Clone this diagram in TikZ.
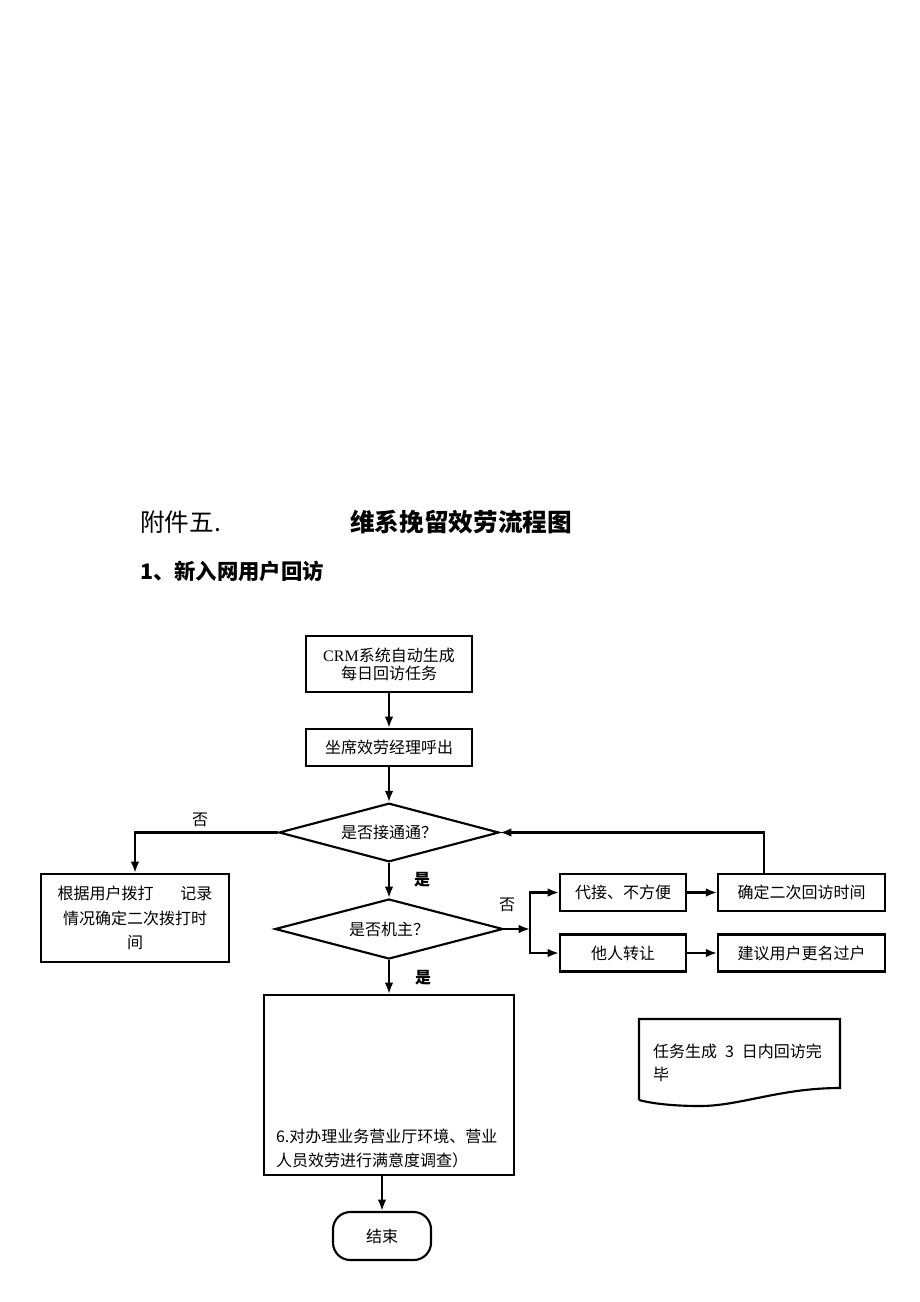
\documentclass[tikz,border=0pt]{standalone}
\usepackage{fontspec}
\newfontfamily\cjk{Noto Sans CJK SC}
\newfontfamily\latinrm{Liberation Serif}
\usetikzlibrary{arrows.meta,shapes.geometric}
\begin{document}
\begin{tikzpicture}[x=0.75pt,y=-0.75pt,line width=1.6pt,
    box/.style={draw,rectangle,align=center,inner sep=0pt,font=\cjk\fontsize{12}{13.5}\selectfont},
    test/.style={draw,diamond,aspect=3.7,inner sep=0pt,font=\cjk\fontsize{12}{14}\selectfont},
    lab/.style={inner sep=0pt,font=\cjk\fontsize{12}{14}\selectfont},
    arr/.style={-{Latex[length=8.5pt,width=6.5pt]}}]
    \useasboundingbox (0,0) rectangle (920,1302);

    % heading
    \node[anchor=west,inner sep=0pt,font=\cjk\fontsize{18.5}{22}\selectfont] (annex) at (139,522) {附件五.};
    \node[inner sep=0pt,font=\cjk\bfseries\fontsize{18.5}{22}\selectfont] (title) at (461,522) {维系挽留效劳流程图};
    \node[anchor=west,inner sep=0pt,font=\cjk\bfseries\fontsize{16}{20}\selectfont] (section) at (139,571) {1、新入网用户回访};

    % flow
    \node[box,minimum width=124.5pt,minimum height=42pt] (start) at (389,664) {{\latinrm CRM}系统自动生成\\每日回访任务};
    \node[box,minimum width=124.5pt,minimum height=27.75pt] (call) at (389,747.5) {坐席效劳经理呼出};
    \node[test,minimum width=165pt,minimum height=44pt] (conn) at (389,832.5) {是否接通通？};
    \node[box,minimum width=141pt,minimum height=66pt,font=\cjk\fontsize{12}{18.4}\selectfont] (redial) at (135,918) {根据用户拨打\hspace{20pt}记录\\情况确定二次拨打时\\间};
    \node[test,aspect=3.8,minimum width=171pt,minimum height=45pt] (owner) at (389,929) {是否机主？};
    \node[box,minimum width=94.5pt,minimum height=27.75pt] (proxy) at (623,892.5) {代接、不方便};
    \node[box,minimum width=125pt,minimum height=27.75pt] (revisit) at (801.5,892.5) {确定二次回访时间};
    \node[box,minimum width=94.5pt,minimum height=27.75pt] (transfer) at (623,953) {他人转让};
    \node[box,minimum width=125pt,minimum height=27.75pt] (rename) at (801.5,953) {建议用户更名过户};
    \node[box,minimum width=187.5pt,minimum height=135pt] (survey) at (389,1085) {};
    \node[lab,anchor=west,align=left,font=\cjk\fontsize{12}{18}\selectfont] (surveytext) at (275,1148) {6.对办理业务营业厅环境、营业\\人员效劳进行满意度调查）};
    \node[box,rounded corners=13pt,minimum width=73.5pt,minimum height=36pt] (end) at (382,1236) {结束};

    % note
    \draw (639,1100) -- (639,1019) -- (840,1019) -- (840,1088)
      .. controls (780,1088) and (740,1106) .. (700,1106)
      .. controls (670,1106) and (650,1103) .. (639,1100);
    \node[lab,anchor=west,align=left,font=\cjk\fontsize{12}{17.25}\selectfont] (note) at (652,1062.5) {任务生成\hspace{6pt}3\hspace{6pt}日内回访完\\毕};

    % labels
    \node[lab] (no1) at (200,820) {否};
    \node[lab,font=\cjk\bfseries\fontsize{12}{14}\selectfont] (yes1) at (422,880) {是};
    \node[lab] (no2) at (507,905) {否};
    \node[lab,font=\cjk\bfseries\fontsize{12}{14}\selectfont] (yes2) at (423,978) {是};

    \coordinate (split) at (530,929);

    \draw[arr] (start) -- (call);
    \draw[arr] (call) -- (conn);
    \draw[arr] (conn.west) -| (redial.north);
    \draw[arr] (conn) -- (owner);
    \draw[arr] (owner.east) -- (split);
    \draw[arr] (split) |- (proxy.west);
    \draw[arr] (split) |- (transfer.west);
    \draw[arr] (proxy) -- (revisit);
    \draw[arr] (transfer) -- (rename);
    \draw[arr] ([xshift=-28pt]revisit.north) |- (conn.east);
    \draw[arr] (owner) -- (survey.north);
    \draw[arr] (survey.south -| end.north) -- (end);
  \end{tikzpicture}
\end{document}
